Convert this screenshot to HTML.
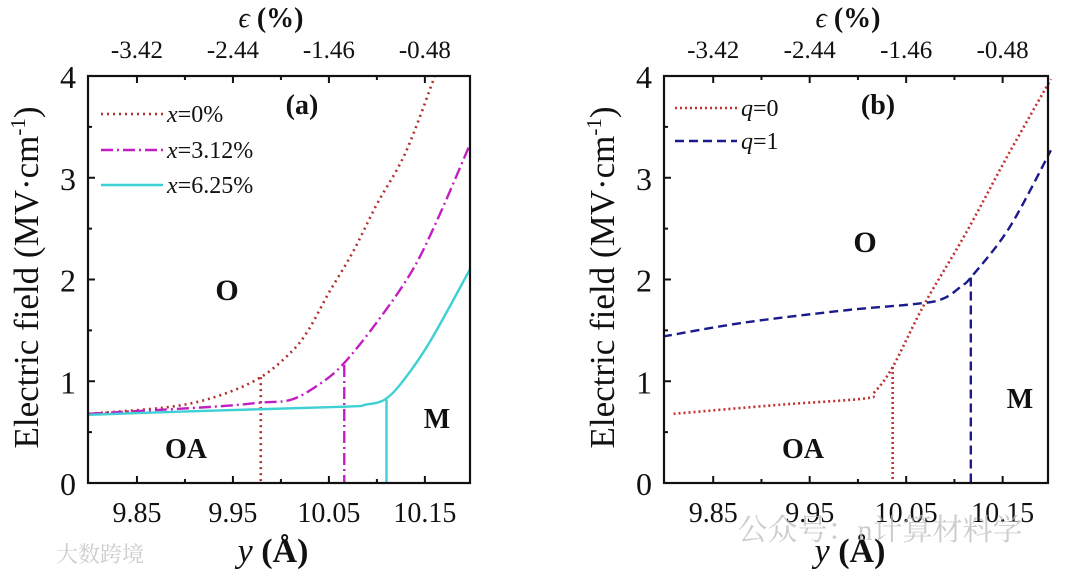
<!DOCTYPE html>
<html><head><meta charset="utf-8"><style>
html,body{margin:0;padding:0;background:#fff;width:1080px;height:575px;overflow:hidden}
svg{display:block}
svg text{font-family:"Liberation Serif","Noto Serif CJK SC",serif}
</style></head><body>
<svg id="fig" width="1080" height="575" viewBox="0 0 1080 575"></svg>
<script>
// ---- data ----
const xTicks = [9.85, 9.95, 10.05, 10.15];
const xTickLabels = ["9.85", "9.95", "10.05", "10.15"];
const topTickLabels = ["-3.42", "-2.44", "-1.46", "-0.48"];
const yTicks = [0, 1, 2, 3, 4];
// Panel (a)
const a0X = [9.80, 9.886, 9.936, 9.979, 10.011, 10.029, 10.05, 10.075, 10.10, 10.13, 10.16];
const a0Y = [0.68, 0.75, 0.86, 1.04, 1.29, 1.51, 1.87, 2.27, 2.74, 3.25, 3.99];
const a1X = [9.80, 9.93, 9.979, 10.011, 10.04, 10.065, 10.10, 10.137, 10.165, 10.197];
const a1Y = [0.68, 0.75, 0.79, 0.82, 0.97, 1.17, 1.58, 2.09, 2.63, 3.33];
const a2X = [9.80, 9.923, 10.067, 10.088, 10.108, 10.127, 10.156, 10.197];
const a2Y = [0.67, 0.71, 0.75, 0.77, 0.82, 1.00, 1.40, 2.10];
const aBoundX = [9.979, 10.066, 10.110];
const aBoundY = [1.04, 1.16, 0.82];
// Panel (b)
const b0X = [9.809, 9.92, 10.007, 10.017, 10.036, 10.069, 10.111, 10.156, 10.20];
const b0Y = [0.68, 0.77, 0.83, 0.89, 1.14, 1.76, 2.44, 3.23, 3.97];
const b1X = [9.798, 9.885, 9.99, 10.06, 10.088, 10.108, 10.118, 10.157, 10.20];
const b1Y = [1.44, 1.58, 1.70, 1.76, 1.81, 1.94, 2.03, 2.51, 3.27];
const bBoundX = [10.036, 10.117];
const bBoundY = [1.14, 2.02];

const NS = "http://www.w3.org/2000/svg";
const SERIF = '"Liberation Serif", "Noto Serif CJK SC", serif';
const svg = document.getElementById("fig");
function mk(tag, attrs, parent) {
  const e = document.createElementNS(NS, tag);
  for (const k in attrs) e.setAttribute(k, attrs[k]);
  (parent || svg).appendChild(e);
  return e;
}
function txt(s, x, y, size, extra, parent) {
  const t = mk("text", Object.assign({x: x, y: y, "font-size": size, "text-anchor": "middle", fill: "#111", "font-family": SERIF}, extra || {}), parent);
  t.innerHTML = s;
  return t;
}
function smoothPath(pts) {
  let d = "M" + pts[0][0].toFixed(1) + "," + pts[0][1].toFixed(1);
  for (let i = 0; i < pts.length - 1; i++) {
    const p0 = pts[Math.max(0, i - 1)], p1 = pts[i], p2 = pts[i + 1], p3 = pts[Math.min(pts.length - 1, i + 2)];
    const c1x = p1[0] + (p2[0] - p0[0]) / 6, c1y = p1[1] + (p2[1] - p0[1]) / 6;
    const c2x = p2[0] - (p3[0] - p1[0]) / 6, c2y = p2[1] - (p3[1] - p1[1]) / 6;
    d += ` C${c1x.toFixed(1)},${c1y.toFixed(1)} ${c2x.toFixed(1)},${c2y.toFixed(1)} ${p2[0].toFixed(1)},${p2[1].toFixed(1)}`;
  }
  return d;
}

function panel(cfg) {
  const g = mk("g", {});
  
  
  const L = cfg.left, R = cfg.right, T = 76, B = 483;
  const xmin = 9.799, xmax = 10.197;
  const sx = v => L + (v - xmin) / (xmax - xmin) * (R - L);
  const sy = v => B - v / 4 * (B - T);
  const tg = mk("g", {stroke: "#111", "stroke-width": 2}, g);
  
  
  for (let v = 9.80; v <= 10.20; v += 0.05) {
    const major = Math.abs(Math.round(v * 20) % 2) === 1;
    const x = sx(v), len = major ? 7 : 4;
    if (x <= L + 1 || x >= R - 1) continue;
    mk("line", {x1: x, x2: x, y1: B, y2: B - len}, tg);
    mk("line", {x1: x, x2: x, y1: T, y2: T + len}, tg);
  }
  for (let v = 0.5; v < 4; v += 0.5) {
    const len = (v % 1 === 0) ? 7 : 4;
    mk("line", {x1: L, x2: L + len, y1: sy(v), y2: sy(v)}, tg);
  }
  xTicks.forEach((v, i) => {
    const t = txt(xTickLabels[i], sx(v), 522, 28, {}, g);
    
    
    const t2 = txt(topTickLabels[i], sx(v), 58, 25, {}, g);
    
    
  });
  yTicks.forEach(v => {
    const t = txt(String(v), L - 12, sy(v) + 12, 32, {"text-anchor": "end"}, g);
    
    
  });
  const cx = (L + R) / 2;
  const tt = txt('<tspan font-style="italic">ϵ</tspan> <tspan font-weight="bold">(%)</tspan>', cx - 8, 27, 28, {}, g);
  
  
  const bt = txt('<tspan font-style="italic">y</tspan> <tspan font-weight="bold">(Å)</tspan>', cx - 6, 562, 34, {}, g);
  
  
  const yt = txt('Electric field (MV·cm<tspan dy="-13" font-size="21">-1</tspan><tspan dy="13">)</tspan>', 0, 0, 35,
    {transform: `translate(${L - 50},${(T + B) / 2 - 2}) rotate(-90)`}, g);
  
  
  cfg.series.forEach(s => {
    const pts = s.x.map((v, i) => [sx(v), sy(s.y[i])]);
    const p = mk("path", {d: smoothPath(pts), fill: "none", stroke: s.color, "stroke-width": s.w, "stroke-dasharray": s.dash}, g);
    
    
    const v = mk("line", {x1: sx(s.bx), x2: sx(s.bx), y1: sy(s.by), y2: B, stroke: s.color, "stroke-width": s.w, "stroke-dasharray": s.dash}, g);
    
    
  });
  const fr = mk("rect", {x: L, y: T, width: R - L, height: B - T, fill: "none", stroke: "#111", "stroke-width": 2.2}, g);
  
  
  cfg.series.forEach((s, i) => {
    const ly = cfg.legY[i];
    const lg = mk("g", {}, g);
    
    
    mk("line", {x1: cfg.legX, x2: cfg.legX + 62, y1: ly, y2: ly, stroke: s.color, "stroke-width": s.w, "stroke-dasharray": s.dash}, lg);
    txt(s.label, cfg.legX + 66, ly + 8, 24, {"text-anchor": "start"}, lg);
  });
  cfg.regions.forEach(r => {
    const t = txt(r[0], r[1], r[2], r[3], {"font-weight": "bold"}, g);
    
    
  });
}

panel({
  name: "panel-a", left: 88, right: 470, legX: 101, legY: [114, 150, 185],
  series: [
    {name: "series-x-0", x: a0X, y: a0Y, bx: aBoundX[0], by: aBoundY[0], color: "#b0302a", w: 2.6, dash: "2 4", label: '<tspan font-style="italic">x</tspan>=0%'},
    {name: "series-x-3.12", x: a1X, y: a1Y, bx: aBoundX[1], by: aBoundY[1], color: "#c21fc2", w: 2.4, dash: "12 4 2 4", label: '<tspan font-style="italic">x</tspan>=3.12%'},
    {name: "series-x-6.25", x: a2X, y: a2Y, bx: aBoundX[2], by: aBoundY[2], color: "#3ed0d4", w: 2.4, dash: "none", label: '<tspan font-style="italic">x</tspan>=6.25%'}
  ],
  regions: [["(a)", 302, 114, 28], ["O", 227, 300, 30], ["OA", 186, 458, 28], ["M", 437, 428, 28]]
});
panel({
  name: "panel-b", left: 664, right: 1048, legX: 675, legY: [108, 141],
  series: [
    {name: "series-q-0", x: b0X, y: b0Y, bx: bBoundX[0], by: bBoundY[0], color: "#c0302e", w: 2.6, dash: "2 3", label: '<tspan font-style="italic">q</tspan>=0'},
    {name: "series-q-1", x: b1X, y: b1Y, bx: bBoundX[1], by: bBoundY[1], color: "#1a1a8c", w: 2.4, dash: "9 5", label: '<tspan font-style="italic">q</tspan>=1'}
  ],
  regions: [["(b)", 878, 114, 28], ["O", 865, 252, 30], ["OA", 803, 458, 28], ["M", 1020, 408, 28]]
});
const w1 = txt("公众号：n计算材料学", 880, 540, 30, {fill: "#bbb", "font-family": "Noto Sans CJK SC, sans-serif", opacity: 0.75});


const w2 = txt("大数跨境", 100, 562, 22, {fill: "#ccc", "font-family": "Noto Sans CJK SC, sans-serif"});


</script>
</body></html>
